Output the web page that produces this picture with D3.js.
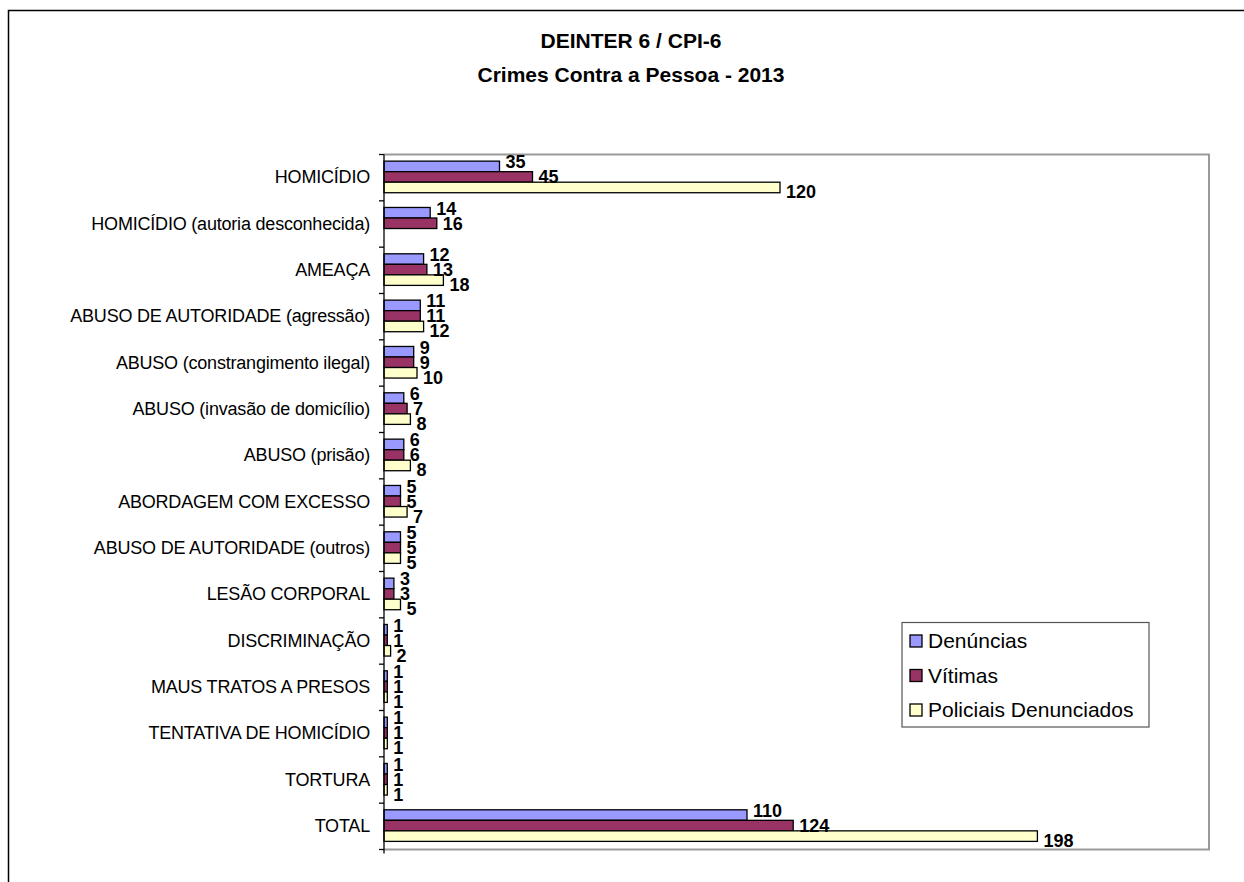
<!DOCTYPE html>
<html>
<head>
<meta charset="utf-8">
<script src="https://cdn.jsdelivr.net/npm/d3@7"></script>
<style>
  html, body { margin: 0; padding: 0; background: #fff; }
  svg { display: block; font-family: "Liberation Sans", Arial, sans-serif; }
</style>
</head>
<body>
<svg id="chart" width="1244" height="882"></svg>
<script>
const titleLines = ["DEINTER 6 / CPI-6", "Crimes Contra a Pessoa - 2013"];
const categories = [
  "HOMICÍDIO",
  "HOMICÍDIO (autoria desconhecida)",
  "AMEAÇA",
  "ABUSO DE AUTORIDADE (agressão)",
  "ABUSO (constrangimento ilegal)",
  "ABUSO (invasão de domicílio)",
  "ABUSO (prisão)",
  "ABORDAGEM COM EXCESSO",
  "ABUSO DE AUTORIDADE (outros)",
  "LESÃO CORPORAL",
  "DISCRIMINAÇÃO",
  "MAUS TRATOS A PRESOS",
  "TENTATIVA DE HOMICÍDIO",
  "TORTURA",
  "TOTAL"
];
const seriesNames = ["Denúncias", "Vítimas", "Policiais Denunciados"];
const denuncias = [35, 14, 12, 11, 9, 6, 6, 5, 5, 3, 1, 1, 1, 1, 110];
const vitimas   = [45, 16, 13, 11, 9, 7, 6, 5, 5, 3, 1, 1, 1, 1, 124];
const policiais = [120, null, 18, 12, 10, 8, 8, 7, 5, 5, 2, 1, 1, 1, 198];
const seriesColors = ["#9999FF", "#993366", "#FFFFCC"];
const xMax = 250;

const series = [denuncias, vitimas, policiais];
const svg = d3.select("#chart");

// outer chart frame (extends beyond viewport)
svg.append("rect")
  .attr("x", 8.5).attr("y", 10.5)
  .attr("width", 1300).attr("height", 1000)
  .attr("fill", "none").attr("stroke", "#000").attr("stroke-width", 1.5);

const plot = { left: 384, right: 1209, top: 154.5, bottom: 849.5 };

const x = d3.scaleLinear().domain([0, xMax]).range([plot.left, plot.right]);
const y = d3.scaleBand().domain(categories).range([plot.top, plot.bottom]).paddingInner(0).paddingOuter(0);
const inner = d3.scaleBand().domain(d3.range(series.length))
  .range([0, y.bandwidth()]).paddingOuter(0.7).paddingInner(0).align(0.45);

// plot area border (gray)
svg.append("path")
  .attr("d", `M${plot.left},${plot.top}H${plot.right}V${plot.bottom}H${plot.left}`)
  .attr("fill", "none").attr("stroke", "#999").attr("stroke-width", 2);

// bars
series.forEach((vals, si) => {
  const g = svg.append("g");
  categories.forEach((c, ci) => {
    const v = vals[ci];
    if (v == null) return;
    const y0 = y(c) + inner(si);
    g.append("rect")
      .attr("x", x(0)).attr("y", y0)
      .attr("width", x(v) - x(0)).attr("height", inner.bandwidth())
      .attr("fill", seriesColors[si]).attr("stroke", "#000").attr("stroke-width", 1.3);
  });
});

// data labels (spread vertically around each group's centre so digits do not collide)
const labelStep = 15;
series.forEach((vals, si) => {
  const g = svg.append("g");
  categories.forEach((c, ci) => {
    const v = vals[ci];
    if (v == null) return;
    const cy = y(c) + inner(1) + inner.bandwidth() / 2 + (si - 1) * labelStep;
    g.append("text")
      .attr("x", x(v) + 6).attr("y", cy)
      .attr("dy", "0.36em")
      .attr("font-size", 18).attr("font-weight", "bold").attr("fill", "#000")
      .text(v);
  });
});

// y axis
const yAxis = d3.axisLeft(y).tickSize(0).tickPadding(14);
const ag = svg.append("g").attr("transform", `translate(${plot.left},0)`).call(yAxis);
ag.select(".domain").attr("stroke", "#000").attr("stroke-width", 1.3)
  .attr("d", `M0,${plot.top}V${plot.bottom + 4}`);
ag.selectAll(".tick text").attr("font-size", 18).attr("fill", "#000")
  .attr("font-family", "\"Liberation Sans\", Arial, sans-serif")
  .attr("letter-spacing", "-0.2px");
const boundaries = categories.map(c => y(c)).concat([plot.bottom]);
ag.selectAll("line.bnd").data(boundaries).enter().append("line")
  .attr("class", "bnd").attr("x1", -5).attr("x2", 0)
  .attr("y1", d => d).attr("y2", d => d)
  .attr("stroke", "#000").attr("stroke-width", 1.3);

// title
svg.append("g").selectAll("text").data(titleLines).enter().append("text")
  .attr("x", 631).attr("y", (d, i) => 47.5 + i * 34.5)
  .attr("text-anchor", "middle").attr("font-size", 21).attr("font-weight", "bold")
  .text(d => d);

// legend
const lg = svg.append("g");
lg.append("rect").attr("x", 902).attr("y", 622.5).attr("width", 247).attr("height", 104.5)
  .attr("fill", "#fff").attr("stroke", "#555").attr("stroke-width", 1.2);
seriesNames.forEach((n, i) => {
  const cy = 640.5 + i * 34.5;
  lg.append("rect").attr("x", 910).attr("y", cy - 5.5).attr("width", 12).attr("height", 12)
    .attr("fill", seriesColors[i]).attr("stroke", "#000").attr("stroke-width", 1.3);
  lg.append("text").attr("x", 928).attr("y", cy).attr("dy", "0.36em")
    .attr("font-size", 21).text(n);
});
</script>
</body>
</html>
